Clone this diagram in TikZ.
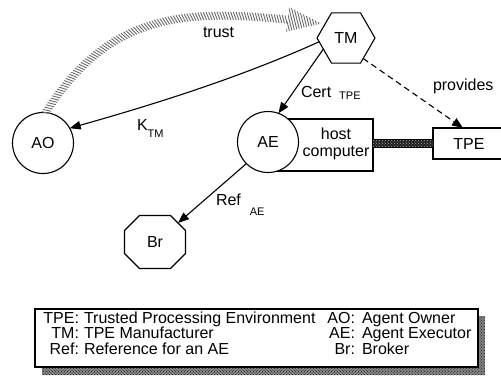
\documentclass[tikz,border=0pt]{standalone}
\usepackage{fontspec}
\setmainfont{Liberation Sans}
\usetikzlibrary{shapes.geometric,arrows.meta,decorations.markings,patterns,calc}
\newcommand\subtxtfont{\fontsize{11pt}{11pt}\selectfont}

\begin{document}
\begin{tikzpicture}[x=1pt,y=-1pt,
  every node/.style={font=\fontsize{16pt}{18pt}\selectfont, inner sep=0pt, outer sep=0pt},
  ln/.style={line width=1.1pt},
  arr/.style={ln, -{Triangle[length=11pt,width=8.5pt]}},
  entity/.style={circle, draw, ln, fill=white, minimum size=61pt},
  hatch/.style={draw=black!58, line width=0.9pt},
  lbl/.style={anchor=base west},
  key/.style={anchor=base east},
  val/.style={anchor=base west}]

\useasboundingbox (0,0) rectangle (501,376);

% ---- parties ----
\node[entity] (AO) at (43,143) {AO};
\node[draw, ln, minimum width=105pt, minimum height=52pt] (host) at (320.5,145) {};
\node[align=center, font=\fontsize{16pt}{17pt}\selectfont] (hostlabel) at (336,144) {host\\computer};
\node[entity] (AE) at (268,142) {AE};
\node[draw, ln, minimum width=72pt, minimum height=31pt, anchor=north west] (TPE) at (433,128) {TPE};
\node[regular polygon, regular polygon sides=6, draw, ln, fill=white, minimum size=58pt] (TM) at (346,38) {TM};

% broker: octagon with 15pt chamfers
\node[minimum width=61pt, minimum height=53pt] (Br) at (155,242) {Br};
\draw[ln] ([xshift=15pt]Br.north west) -- ([xshift=-15pt]Br.north east)
  -- ([yshift=-15pt]Br.north east) -- ([yshift=15pt]Br.south east)
  -- ([xshift=-15pt]Br.south east) -- ([xshift=15pt]Br.south west)
  -- ([yshift=15pt]Br.south west) -- ([yshift=-15pt]Br.north west) -- cycle;
\coordinate (BrNE) at ($(Br.north east)+(-7.5,7.5)$);

% ---- physical link between host computer and TPE ----
\coordinate (linkA) at ($(host.east |- TPE.west)+(0,-4)$);
\coordinate (linkB) at ($(TPE.west)+(0,4)$);
\fill[black!88] (linkA) rectangle (linkB);
\fill[pattern=crosshatch dots, pattern color=white!65!black] (linkA) rectangle (linkB);
\draw[line width=0.9pt] (linkA) -- (linkA -| linkB) (linkA |- linkB) -- (linkB);

% ---- trust relation (hatched band with hatched head) ----
\coordinate (trustend) at ($(TM.145)+(-4,0)$);
\path[decorate, decoration={markings,
    mark=between positions 0 and -34pt step 2.7pt with {\draw[hatch] (1.5pt,-4pt) -- (-1.5pt,4pt);}}]
  (AO.85) .. controls +(69,-108) and +(-125,-15) .. (trustend);
\begin{scope}[shift={(trustend)}, rotate=-7]
  \clip (0pt,0pt) -- (-34pt,12.5pt) -- (-34pt,-12.5pt) -- cycle;
  \foreach \k in {0,...,16} {\draw[hatch] ({-\k*2.7pt+5pt},-13pt) -- ({-\k*2.7pt-5pt},13pt);}
\end{scope}
\node[lbl] (trustlbl) at (203,37) {trust};

% ---- arrows ----
\draw[arr] (TM.188) .. controls +(-80,36) and +(85,-24) .. (AO.29);
\node[lbl] (ktm) at (137,130) {K\raisebox{-7pt}{\subtxtfont TM}};

\draw[arr] (TM.206) -- (AE.70);
\node[lbl] (cert) at (301,97) {Cert\hspace{8pt}\raisebox{-2.5pt}{\subtxtfont TPE}};

\draw[arr, dash pattern=on 6pt off 4pt] (TM.310) -- ([xshift=30pt]TPE.north west);
\node[lbl] (prov) at (433,90) {provides};

\draw[arr] (AE.225) -- (BrNE);
\node[lbl] (ref) at (216,205) {Ref\hspace{9pt}\raisebox{-10pt}{\subtxtfont AE}};

% ---- legend ----
\node[minimum width=443pt, minimum height=58pt, anchor=north west] (legend) at (35,309) {};
\fill[black!50] ([shift={(7,7)}]legend.north west) rectangle ([shift={(7,8)}]legend.south east);
\fill[pattern=crosshatch dots, pattern color=black!85] ([shift={(7,7)}]legend.north west) rectangle ([shift={(7,8)}]legend.south east);
\draw[ln, fill=white] (legend.north west) rectangle (legend.south east);

\node[key] (k1) at (79,323) {TPE:};
\node[val] (v1) at (84,323) {Trusted Processing Environment};
\node[key] (k2) at (355,323) {AO:};
\node[val] (v2) at (362,323) {Agent Owner};
\node[key] (k3) at (79,338.5) {TM:};
\node[val] (v3) at (84,338.5) {TPE Manufacturer};
\node[key] (k4) at (355,338.5) {AE:};
\node[val] (v4) at (362,338.5) {Agent Executor};
\node[key] (k5) at (79,354) {Ref:};
\node[val] (v5) at (84,354) {Reference for an AE};
\node[key] (k6) at (355,354) {Br:};
\node[val] (v6) at (362,354) {Broker};
\end{tikzpicture}
\end{document}
